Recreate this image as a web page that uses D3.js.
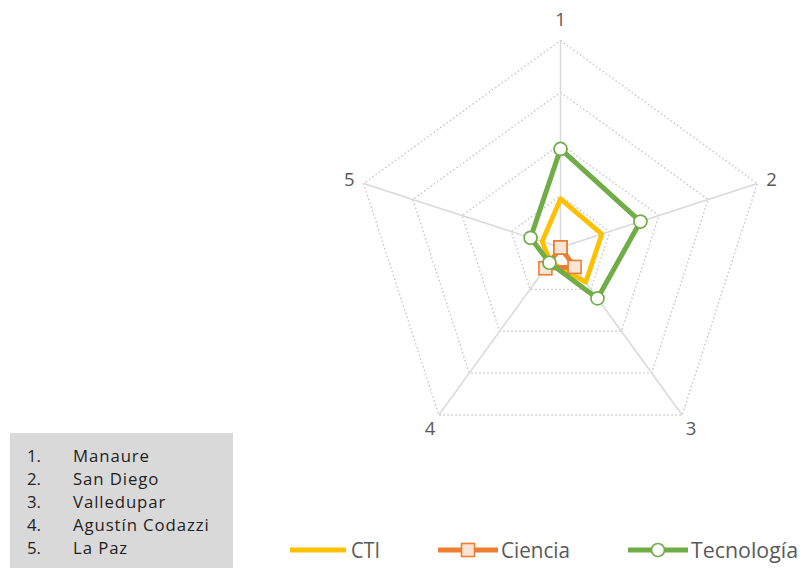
<!DOCTYPE html>
<html lang="es">
<head>
<meta charset="UTF-8">
<title>Radar CTI</title>
<script src="https://d3js.org/d3.v7.min.js"></script>
<style>
    body { margin: 0; background: #fff; }
    svg { display: block; font-family: "Open Sans", sans-serif; }
</style>
</head>
<body>
<script>
    // data (share, 0-100)
    const axisLabels = ["1", "2", "3", "4", "5"]
    const municipios = ["Manaure", "San Diego", "Valledupar", "Agustín Codazzi", "La Paz"]
    const seriesNames = ["CTI", "Ciencia", "Tecnología"]
    const ctiValues = [23.5, 21, 20.7, 8.5, 9.3]
    const cienciaValues = [0, 0, 11.6, 12.4, 0]
    const tecnologiaValues = [47.6, 40.6, 30.4, 9.1, 15.2]
    const ringTicks = [25, 50, 75, 100]

    const W = 807, H = 568
    const center = {x: 560.5, y: 247.5}
    const R = 207

    const svg = d3.select("body").append("svg")
        .attr("width", W).attr("height", H)

    const rScale = d3.scaleLinear().domain([0, 100]).range([0, R])
    const angle = i => i * 2 * Math.PI / axisLabels.length

    const radar = d3.lineRadial()
        .angle((d, i) => angle(i))
        .radius(d => rScale(d))
        .curve(d3.curveLinearClosed)

    const chart = svg.append("g")
        .attr("transform", `translate(${center.x},${center.y})`)

    // dotted rings
    chart.selectAll(".ring")
        .data(ringTicks)
        .enter().append("path")
        .attr("class", "ring")
        .attr("d", t => radar(axisLabels.map(() => t)))
        .attr("fill", "none")
        .attr("stroke", "#c6c6c6")
        .attr("stroke-width", 1.4)
        .attr("stroke-dasharray", "1.5 2.5")

    // spokes
    chart.selectAll(".spoke")
        .data(axisLabels)
        .enter().append("line")
        .attr("x1", 0).attr("y1", 0)
        .attr("x2", (d, i) => rScale(100) * Math.sin(angle(i)))
        .attr("y2", (d, i) => -rScale(100) * Math.cos(angle(i)))
        .attr("stroke", "#d9d9d9")
        .attr("stroke-width", 1.5)

    // axis labels
    const labelR = rScale(100) + 15
    chart.selectAll(".alabel")
        .data(axisLabels)
        .enter().append("text")
        .attr("x", (d, i) => labelR * Math.sin(angle(i)))
        .attr("y", (d, i) => -labelR * Math.cos(angle(i)) - (i === 0 ? 7 : 0))
        .attr("text-anchor", "middle")
        .attr("dominant-baseline", "central")
        .attr("font-size", 18.5)
        .attr("fill", "#595959")
        .text(d => d)

    const pt = (v, i) => [rScale(v) * Math.sin(angle(i)), -rScale(v) * Math.cos(angle(i))]

    // CTI
    chart.append("path")
        .attr("d", radar(ctiValues))
        .attr("fill", "none")
        .attr("stroke", "#ffc000")
        .attr("stroke-width", 4.8)
        .attr("stroke-linejoin", "round")

    // Ciencia
    chart.append("path")
        .attr("d", radar(cienciaValues))
        .attr("fill", "none")
        .attr("stroke", "#ed7d31")
        .attr("stroke-width", 4.8)
        .attr("stroke-linejoin", "round")
    chart.selectAll(".sq")
        .data(cienciaValues)
        .enter().append("rect")
        .attr("x", (d, i) => pt(d, i)[0] - 6.5)
        .attr("y", (d, i) => pt(d, i)[1] - 6.5)
        .attr("width", 13).attr("height", 13)
        .attr("fill", "#fbe5d6")
        .attr("stroke", "#ed7d31")
        .attr("stroke-width", 1.6)

    // Tecnología
    chart.append("path")
        .attr("d", radar(tecnologiaValues))
        .attr("fill", "none")
        .attr("stroke", "#70ad47")
        .attr("stroke-width", 5)
        .attr("stroke-linejoin", "round")
    chart.selectAll(".circ")
        .data(tecnologiaValues)
        .enter().append("circle")
        .attr("cx", (d, i) => pt(d, i)[0])
        .attr("cy", (d, i) => pt(d, i)[1])
        .attr("r", 6.5)
        .attr("fill", "#fff")
        .attr("stroke", "#70ad47")
        .attr("stroke-width", 1.7)

    // municipios box
    svg.append("rect")
        .attr("x", 10).attr("y", 433)
        .attr("width", 223).attr("height", H - 433)
        .attr("fill", "#d9d9d9")
    const rows = svg.selectAll(".mun")
        .data(municipios)
        .enter().append("g")
        .attr("transform", (d, i) => `translate(0,${462 + i * 23.1})`)
    rows.append("text")
        .attr("x", 27).attr("font-size", 16.8).attr("fill", "#1f1f1f")
        .text((d, i) => (i + 1) + ".")
    rows.append("text")
        .attr("x", 73).attr("font-size", 16.8).attr("fill", "#1f1f1f")
        .attr("letter-spacing", 0.9)
        .text(d => d)

    // legend
    const legendX = [290, 438, 628]
    const textWidths = [29, 69, 107]
    const colors = ["#ffc000", "#ed7d31", "#70ad47"]
    const leg = svg.selectAll(".leg")
        .data(seriesNames)
        .enter().append("g")
        .attr("transform", (d, i) => `translate(${legendX[i]},550)`)
    leg.append("line")
        .attr("x1", 0).attr("x2", (d, i) => i === 0 ? 56 : 60)
        .attr("stroke", (d, i) => colors[i])
        .attr("stroke-width", 5)
    leg.filter((d, i) => i === 1).append("rect")
        .attr("x", 23.5).attr("y", -6.5).attr("width", 13).attr("height", 13)
        .attr("fill", "#fbe5d6").attr("stroke", "#ed7d31").attr("stroke-width", 1.6)
    leg.filter((d, i) => i === 2).append("circle")
        .attr("cx", 30).attr("r", 6.5)
        .attr("fill", "#fff").attr("stroke", "#70ad47").attr("stroke-width", 1.7)
    leg.append("text")
        .attr("x", (d, i) => i === 0 ? 61 : 63)
        .attr("y", 8)
        .attr("font-size", 22)
        .attr("fill", "#595959")
        .attr("textLength", (d, i) => textWidths[i])
        .attr("lengthAdjust", "spacingAndGlyphs")
        .text(d => d)
</script>
</body>
</html>
